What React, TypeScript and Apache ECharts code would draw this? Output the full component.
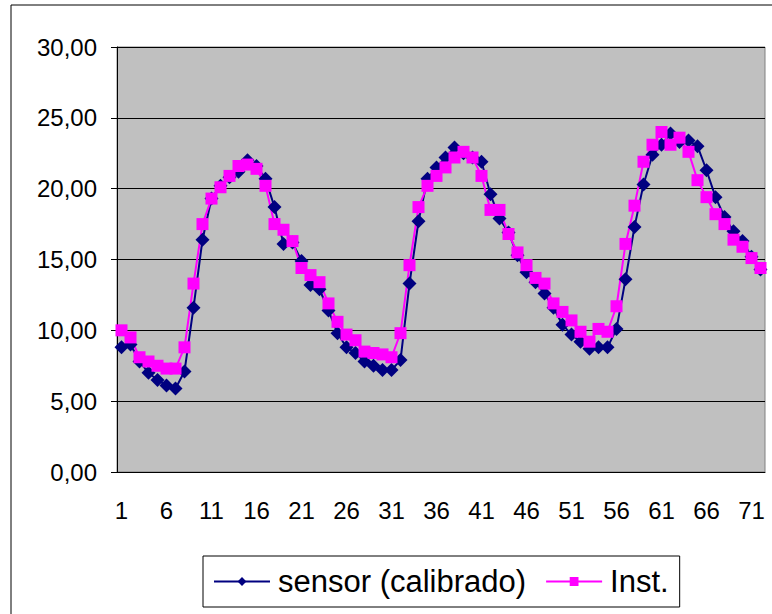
import React, { useEffect, useRef } from "react";
import * as echarts from "echarts";

const categories: string[] = Array.from({ length: 72 }, (_, i) => String(i + 1));

const sensor: number[] = [
  8.8, 9.0, 7.8, 7.0, 6.5, 6.1, 5.9, 7.1, 11.6, 16.4,
  19.3, 20.2, 20.8, 21.2, 22.0, 21.6, 20.7, 18.7, 16.1, 16.2,
  14.9, 13.2, 12.9, 11.4, 9.8, 8.8, 8.4, 7.8, 7.5, 7.2,
  7.2, 7.9, 13.3, 17.7, 20.7, 21.5, 22.2, 22.9, 22.5, 22.2,
  21.9, 19.6, 17.9, 16.9, 15.3, 14.1, 13.4, 12.6, 11.6, 10.4,
  9.7, 9.2, 8.7, 8.8, 8.8, 10.1, 13.6, 17.3, 20.3, 22.4,
  23.1, 23.9, 23.3, 23.4, 23.0, 21.3, 19.4, 18.0, 17.0, 16.3,
  15.2, 14.3,
];

const inst: number[] = [
  10.0, 9.5, 8.1, 7.8, 7.5, 7.3, 7.3, 8.8, 13.3, 17.5,
  19.3, 20.1, 20.9, 21.6, 21.7, 21.4, 20.2, 17.5, 17.1, 16.3,
  14.4, 13.9, 13.4, 11.9, 10.6, 9.7, 9.3, 8.5, 8.4, 8.3,
  8.1, 9.8, 14.6, 18.7, 20.2, 20.9, 21.5, 22.2, 22.6, 22.2,
  20.9, 18.5, 18.5, 16.8, 15.5, 14.6, 13.7, 13.3, 11.9, 11.3,
  10.7, 9.9, 9.2, 10.1, 9.9, 11.7, 16.1, 18.8, 21.9, 23.1,
  24.0, 23.1, 23.6, 22.6, 20.6, 19.4, 18.2, 17.5, 16.4, 15.9,
  15.1, 14.4,
];

const seriesNames: string[] = ["sensor (calibrado)", "Inst."];

const FONT = "'Liberation Sans', Arial, sans-serif";

export default function App() {
  const ref = useRef<HTMLDivElement>(null);
  useEffect(() => {
    if (!ref.current) return;
    const chart = echarts.init(ref.current, undefined, { renderer: "svg" });
    chart.setOption({
      animation: false,
      backgroundColor: "#ffffff",
      textStyle: { fontFamily: FONT },
      graphic: [
        {
          type: "rect",
          shape: { x: 11, y: 5, width: 900, height: 800 },
          style: { fill: "none", stroke: "#000", lineWidth: 1 },
          silent: true,
          z: -1,
        },
      ],
      grid: {
        left: 117,
        top: 47,
        width: 648,
        height: 425,
        show: true,
        backgroundColor: "#C0C0C0",
        borderColor: "#808080",
        borderWidth: 1,
      },
      legend: {
        left: 203,
        top: 556,
        padding: [10, 11, 10, 10],
        itemGap: 19,
        itemWidth: 56,
        itemHeight: 11,
        backgroundColor: "#ffffff",
        borderColor: "#000",
        borderWidth: 1,
        borderRadius: 0,
        textStyle: { fontSize: 31, color: "#000", fontFamily: FONT, padding: [0, 0, 0, 3] },
        data: seriesNames,
      },
      xAxis: {
        type: "category",
        data: categories,
        boundaryGap: true,
        axisLine: { lineStyle: { color: "#000", width: 1 } },
        axisTick: { interval: 0, length: 5, lineStyle: { color: "#000" } },
        axisLabel: { interval: 4, fontSize: 24, color: "#000", margin: 26, fontFamily: FONT },
        splitLine: { show: false },
      },
      yAxis: {
        type: "value",
        min: 0,
        max: 30,
        interval: 5,
        axisLine: { show: true, lineStyle: { color: "#000", width: 1 } },
        axisTick: { show: true, length: 6, lineStyle: { color: "#000" } },
        axisLabel: {
          fontSize: 24,
          color: "#000",
          margin: 20,
          fontFamily: FONT,
          formatter: (v: number) => v.toFixed(2).replace(".", ","),
        },
        splitLine: { show: true, lineStyle: { color: "#000", width: 1 } },
      },
      series: [
        {
          name: seriesNames[0],
          type: "line",
          data: sensor,
          symbol: "diamond",
          symbolSize: 14,
          showAllSymbol: true,
          lineStyle: { color: "#000080", width: 2 },
          itemStyle: { color: "#000080" },
        },
        {
          name: seriesNames[1],
          type: "line",
          data: inst,
          symbol: "rect",
          symbolSize: 12,
          showAllSymbol: true,
          lineStyle: { color: "#FF00FF", width: 2 },
          itemStyle: { color: "#FF00FF" },
        },
      ],
    });
    return () => chart.dispose();
  }, []);
  return (
    <div
      ref={ref}
      style={{ position: "absolute", left: 0, top: 0, width: 772, height: 614 }}
    />
  );
}
